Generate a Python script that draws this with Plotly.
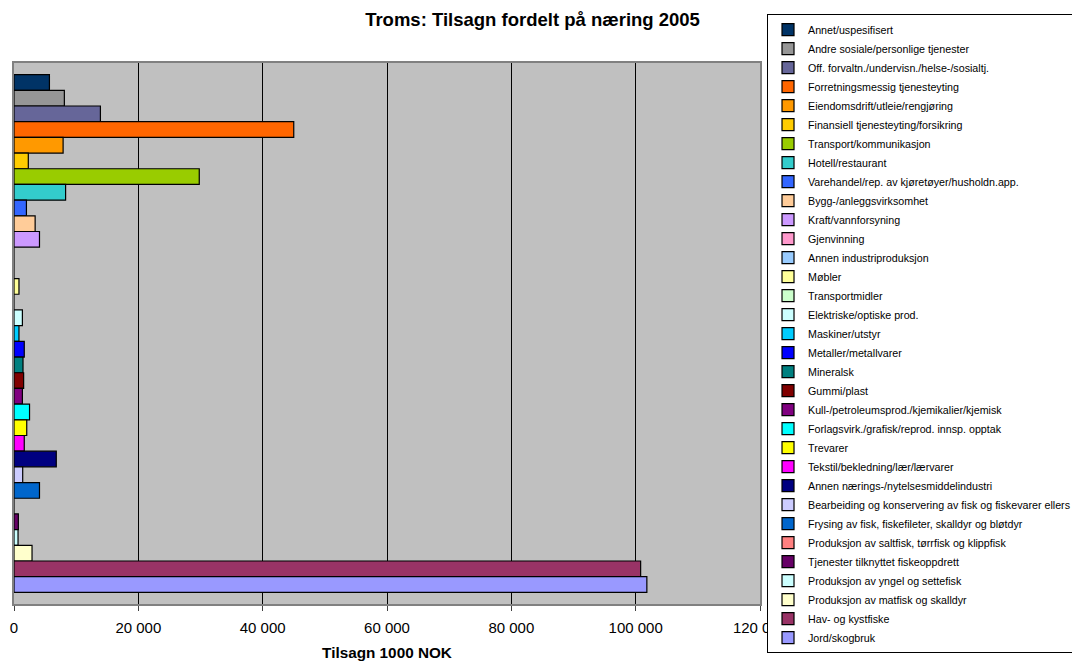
import plotly.graph_objects as go

categories = [
    "Annet/uspesifisert",
    "Andre sosiale/personlige tjenester",
    "Off. forvaltn./undervisn./helse-/sosialtj.",
    "Forretningsmessig tjenesteyting",
    "Eiendomsdrift/utleie/rengjøring",
    "Finansiell tjenesteyting/forsikring",
    "Transport/kommunikasjon",
    "Hotell/restaurant",
    "Varehandel/rep. av kjøretøyer/husholdn.app.",
    "Bygg-/anleggsvirksomhet",
    "Kraft/vannforsyning",
    "Gjenvinning",
    "Annen industriproduksjon",
    "Møbler",
    "Transportmidler",
    "Elektriske/optiske prod.",
    "Maskiner/utstyr",
    "Metaller/metallvarer",
    "Mineralsk",
    "Gummi/plast",
    "Kull-/petroleumsprod./kjemikalier/kjemisk",
    "Forlagsvirk./grafisk/reprod. innsp. opptak",
    "Trevarer",
    "Tekstil/bekledning/lær/lærvarer",
    "Annen nærings-/nytelsesmiddelindustri",
    "Bearbeiding og konservering av fisk og fiskevarer ellers",
    "Frysing av fisk, fiskefileter, skalldyr og bløtdyr",
    "Produksjon av saltfisk, tørrfisk og klippfisk",
    "Tjenester tilknyttet fiskeoppdrett",
    "Produksjon av yngel og settefisk",
    "Produksjon av matfisk og skalldyr",
    "Hav- og kystfiske",
    "Jord/skogbruk",
]

values = [
    5700, 8100, 13900, 45000, 7900, 2300, 29800, 8300, 2000, 3400, 4100,
    0, 0, 800, 0, 1350, 800, 1650, 1450, 1550, 1350, 2500, 2050, 1650,
    6800, 1400, 4100, 0, 700, 650, 2900, 100800, 101800,
]

colors = [
    "#003366", "#969696", "#666699", "#FF6600", "#FF9900", "#FFCC00",
    "#99CC00", "#33CCCC", "#3366FF", "#FFCC99", "#CC99FF", "#FF99CC",
    "#99CCFF", "#FFFF99", "#CCFFCC", "#CCFFFF", "#00CCFF", "#0000FF",
    "#008080", "#800000", "#800080", "#00FFFF", "#FFFF00", "#FF00FF",
    "#000080", "#CCCCFF", "#0066CC", "#FF8080", "#660066", "#CCFFFF",
    "#FFFFCC", "#993366", "#9999FF",
]

x_ticks = [0, 20000, 40000, 60000, 80000, 100000, 120000]

n = len(categories)
fig = go.Figure()
for i, (cat, val, col) in enumerate(zip(categories, values, colors)):
    fig.add_trace(go.Bar(
        x=[val], y=[n - 1 - i], orientation="h", name=cat,
        width=1.0,
        marker=dict(color=col, line=dict(color="black", width=1.2)),
        hovertemplate=cat + ": %{x}<extra></extra>",
    ))

# page body has an 8px margin, so the figure is 8px smaller than the window
fig.update_layout(
    width=1072, height=656,
    paper_bgcolor="white",
    plot_bgcolor="#C0C0C0",
    separators=", ",
    font=dict(family="Liberation Sans, Arial, sans-serif", color="black"),
    title=dict(text="<b>Troms: Tilsagn fordelt på næring 2005</b>",
               x=0.4893, xanchor="center", y=0.983, yanchor="middle",
               font=dict(size=18.5)),
    margin=dict(l=6, r=320, t=55, b=60, autoexpand=False),
    barmode="overlay",
    showlegend=True,
    legend=dict(
        x=1.0094, xanchor="left", y=1.0905, yanchor="top",
        bgcolor="white", bordercolor="black", borderwidth=1,
        font=dict(size=10.7), traceorder="normal",
        itemwidth=30, tracegroupgap=0, maxheight=650,
    ),
    xaxis=dict(
        range=[0, 120000], tickvals=x_ticks, tickformat=",d",
        showgrid=True, gridcolor="black", gridwidth=1,
        zeroline=False,
        showline=True, linecolor="#808080", linewidth=2, mirror=True,
        ticks="outside", ticklen=5, tickcolor="#404040",
        tickfont=dict(size=15), ticklabelstandoff=4,
        title=dict(text="<b>Tilsagn 1000 NOK</b>", font=dict(size=15.3), standoff=12),
    ),
    yaxis=dict(
        range=[-1.24, n - 1 + 1.24],
        showticklabels=False, showgrid=False, zeroline=False,
        showline=True, linecolor="#808080", linewidth=2, mirror=True,
        ticks="",
    ),
)

fig.write_html("out.html")
